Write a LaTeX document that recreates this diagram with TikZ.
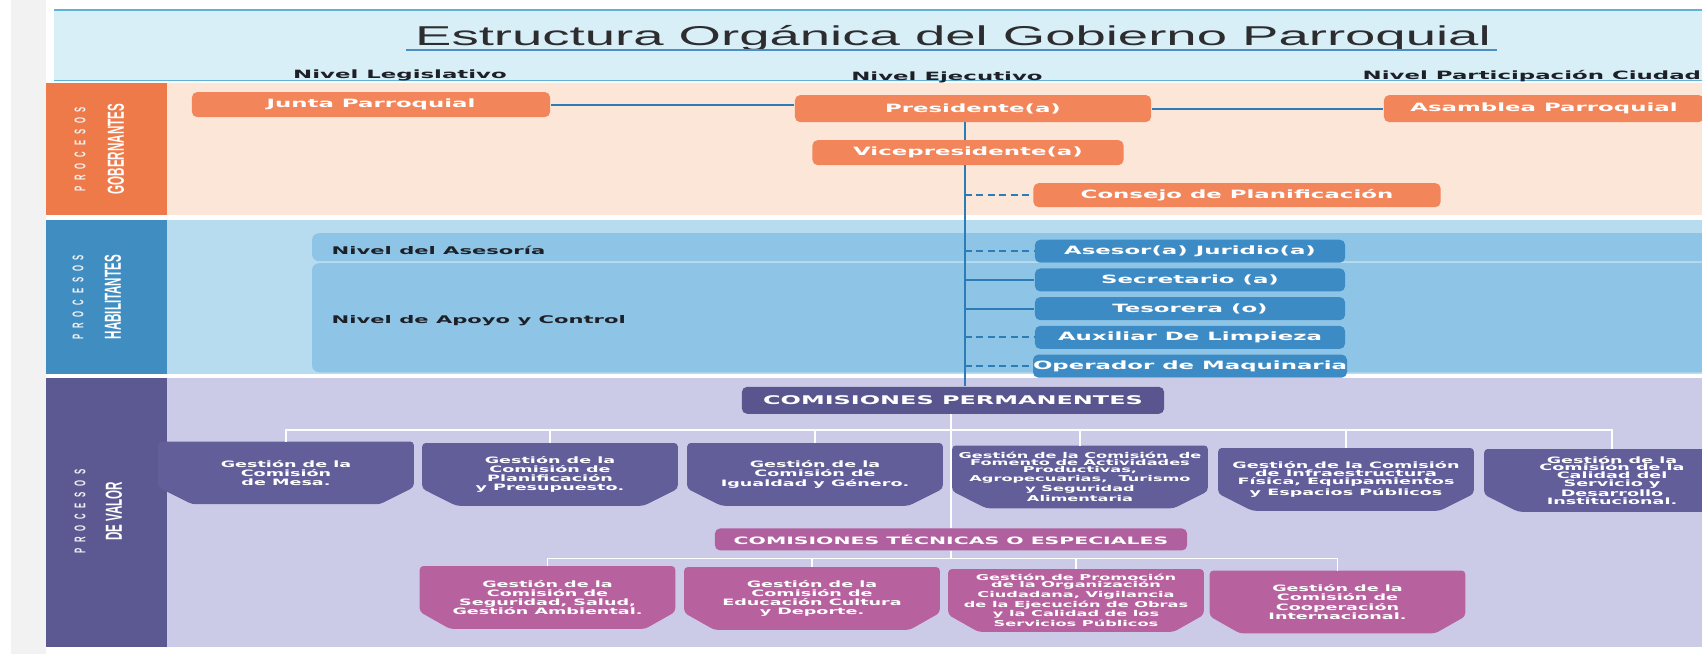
\documentclass[tikz,border=0pt]{standalone}
\usepackage{xcolor}
\usepackage{fontspec}
\usepackage{tikz}
\setmainfont{Liberation Sans}
\newfontfamily\heavy{DejaVu Sans}
\definecolor{govcol}{RGB}{238,122,74}
\definecolor{govbody}{RGB}{252,230,215}
\definecolor{govbox}{RGB}{242,133,90}
\definecolor{habcol}{RGB}{63,141,193}
\definecolor{habbody}{RGB}{183,220,240}
\definecolor{habpanel}{RGB}{142,197,230}
\definecolor{habbox}{RGB}{61,139,197}
\definecolor{valcol}{RGB}{92,88,145}
\definecolor{valbody}{RGB}{204,203,231}
\definecolor{valbox}{RGB}{97,94,154}
\definecolor{permbox}{RGB}{88,85,143}
\definecolor{tecbox}{RGB}{176,96,158}
\definecolor{pinkbox}{RGB}{183,98,159}
\definecolor{bandfill}{RGB}{216,239,247}
\definecolor{bandline}{RGB}{96,178,214}
\definecolor{linkblue}{RGB}{44,124,184}
\definecolor{titlegray}{RGB}{45,45,48}
\definecolor{levelgray}{RGB}{30,32,40}
\usetikzlibrary{positioning,calc,backgrounds}

\begin{document}
\begin{tikzpicture}[
    x=0.01cm, y=-0.02cm, xscale=2,
    every node/.style={transform shape},
    gov/.style={rectangle, rounded corners=3pt, fill=govbox, text=white, inner sep=0pt, font=\heavy\bfseries\fontsize{6.5}{7}\selectfont},
    hab/.style={gov, fill=habbox, minimum width=3.1cm, minimum height=0.46cm},
    head/.style={gov, fill=permbox, font=\heavy\bfseries\fontsize{6.8}{7}\selectfont},
    comm/.style={text=white, align=center, inner sep=0pt, minimum width=2.54cm, minimum height=1.24cm, font=\heavy\bfseries\fontsize{5}{5.2}\selectfont},
    level/.style={text=levelgray, inner sep=0pt, font=\heavy\bfseries\fontsize{6.5}{7}\selectfont},
    proc/.style={rotate=90, text=white!88!gray, inner sep=0pt, font=\bfseries\fontsize{4.4}{5}\selectfont\addfontfeature{LetterSpace=75}},
    procname/.style={rotate=90, text=white, inner sep=0pt, font=\bfseries\fontsize{6.6}{7}\selectfont},
    link/.style={draw=linkblue, line width=1.1pt},
    dlink/.style={link, dash pattern=on 4pt off 2.5pt},
    wlink/.style={draw=white, line width=1pt}
]
    \useasboundingbox (0,0) rectangle (1702,653);

    % Bands
    \begin{scope}[on background layer]
        \fill[white] (0,0) rectangle (1702,653);
        \fill[gray!10] (11,0) rectangle (46,653);
        \fill[bandfill] (54,10) rectangle (1702,80);
        \draw[bandline, line width=0.6pt] (54,10) -- (1702,10) (54,80) -- (1702,80);
        \fill[govcol] (46,83) rectangle (167,215);
        \fill[govbody] (167,83) rectangle (1702,215);
        \fill[habcol] (46,220) rectangle (167,374);
        \fill[habbody] (167,220) rectangle (1702,374);
        \fill[habpanel, rounded corners=4pt] (312,233) rectangle (1720,261);
        \fill[habpanel, rounded corners=4pt] (312,263) rectangle (1720,372);
        \fill[valcol] (46,378) rectangle (167,646);
        \fill[valbody] (167,378) rectangle (1702,646);
    \end{scope}

    % Title
    \node[font=\fontsize{15.5}{18}\selectfont, text=titlegray, anchor=base, inner sep=0pt] (title) at (953,45) {Estructura Orgánica del Gobierno Parroquial};
    \draw[draw=linkblue!85, line width=1pt] ($(title.base west)+(-9,5)$) -- ($(title.base east)+(5,5)$);

    % Levels
    \node[level] (legis) at (400,75) {Nivel Legislativo};
    \node[level] (ejec) at (947,77) {Nivel Ejecutivo};
    \node[level, anchor=west] (ciud) at (1362,76) {Nivel Participación Ciudadana};

    % Process labels
    \node[proc] (procgov) at (80,149) {PROCESOS};
    \node[procname] (namegov) at (116,149) {GOBERNANTES};
    \node[proc] (prochab) at (78,297) {PROCESOS};
    \node[procname] (namehab) at (113,297) {HABILITANTES};
    \node[proc] (procval) at (80,511) {PROCESOS};
    \node[procname] (nameval) at (114,511) {DE VALOR};

    % Procesos gobernantes
    \node[gov, minimum width=3.58cm, minimum height=0.5cm] (junta) at (371,104.5) {Junta Parroquial};
    \node[gov, minimum width=3.56cm, minimum height=0.54cm] (pres) at (973,108.5) {Presidente(a)};
    \node[gov, minimum width=3.2cm, minimum height=0.54cm] (asamblea) at (1544,108.5) {Asamblea Parroquial};
    \node[gov, minimum width=3.11cm, minimum height=0.5cm] (vice) at (968,152.5) {Vicepresidente(a)};
    \node[gov, minimum width=4.07cm, minimum height=0.48cm] (consejo) at (1237,195) {Consejo de Planificación};

    % Procesos habilitantes
    \node[level, anchor=west, font=\heavy\bfseries\fontsize{6}{7}\selectfont] (asesoria) at (331,250) {Nivel del Asesoría};
    \node[level, anchor=west, font=\heavy\bfseries\fontsize{6}{7}\selectfont] (apoyo) at (331,320) {Nivel de Apoyo y Control};
    \node[hab] (asesor) at (1190,251) {Asesor(a) Juridio(a)};
    \node[hab, below=0.1cm of asesor] (secre) {Secretario (a)};
    \node[hab, below=0.1cm of secre] (teso) {Tesorera (o)};
    \node[hab, below=0.1cm of teso] (aux) {Auxiliar De Limpieza};
    \node[hab, below=0.1cm of aux] (oper) {Operador de Maquinaria};

    % Procesos de valor
    \node[head, minimum width=4.22cm, minimum height=0.54cm] (perm) at (953,400) {COMISIONES PERMANENTES};
    \node[head, fill=tecbox, minimum width=4.72cm, minimum height=0.44cm, font=\heavy\bfseries\fontsize{5.8}{7}\selectfont] (tec) at (951,539) {COMISIONES TÉCNICAS O ESPECIALES};

    \node[comm] (g1) at (286,472.5) {Gestión de la\\Comisión\\de Mesa.};
    \node[comm] (g2) at (550,474) {Gestión de la\\Comisión de\\Planificación\\y Presupuesto.};
    \node[comm] (g3) at (815,474) {Gestión de la\\Comisión de\\Igualdad y Género.};
    \node[comm, font=\heavy\bfseries\fontsize{4.6}{4.0}\selectfont] (g4) at (1080,476.5) {Gestión de la Comisión\ \ de\\Fomento de Actividades\\Productivas,\\Agropecuarias,\ \ Turismo\\y Seguridad\\Alimentaria};
    \node[comm, font=\heavy\bfseries\fontsize{5}{4.7}\selectfont] (g5) at (1346,479) {Gestión de la Comisión\\de Infraestructura\\Física, Equipamientos\\y Espacios Públicos};
    \node[comm, font=\heavy\bfseries\fontsize{5}{4.4}\selectfont] (g6) at (1612,480) {Gestión de la\\Comisión de la\\Calidad del\\Servicio y\\Desarrollo\\Institucional.};

    \node[comm] (s1) at (547.5,597) {Gestión de la\\Comisión de\\Seguridad, Salud,\\Gestión Ambiental.};
    \node[comm] (s2) at (812,598) {Gestión de la\\Comisión de\\Educación Cultura\\y Deporte.};
    \node[comm, font=\heavy\bfseries\fontsize{4.6}{3.9}\selectfont] (s3) at (1076,600) {Gestión de Promoción\\de la Organización\\Ciudadana, Vigilancia\\de la Ejecución de Obras\\y la Calidad de los\\Servicios Públicos};
    \node[comm] (s4) at (1337.5,601.5) {Gestión de la\\Comisión de\\Cooperación\\Internacional.};

    % Commission shapes
    \begin{scope}[on background layer]
        \foreach \n in {g1,g2,g3,g4,g5,g6}
            \fill[valbox, rounded corners=2pt] (\n.north west) -- (\n.north east) -- ($(\n.south east)+(0,-17)$) -- ($(\n.south east)+(-34,0)$) -- ($(\n.south west)+(34,0)$) -- ($(\n.south west)+(0,-17)$) -- cycle;
        \foreach \n in {s1,s2,s3,s4}
            \fill[pinkbox, rounded corners=2pt] (\n.north west) -- (\n.north east) -- ($(\n.south east)+(0,-17)$) -- ($(\n.south east)+(-30,0)$) -- ($(\n.south west)+(30,0)$) -- ($(\n.south west)+(0,-17)$) -- cycle;
    \end{scope}

    % Links
    \coordinate (trunk) at (965,0);
    \draw[link] (junta.east) -- (junta.east -| pres.west);
    \draw[link] (pres.east) -- (pres.east -| asamblea.west);
    \draw[link, line width=1.3pt] (pres.south -| trunk) -- (vice.north -| trunk);
    \draw[link, line width=1.3pt] (vice.south -| trunk) -- (perm.north -| trunk);
    \draw[dlink] (trunk |- consejo.west) -- (consejo.west);
    \draw[dlink] (trunk |- asesor.west) -- (asesor.west);
    \draw[link] (trunk |- secre.west) -- (secre.west);
    \draw[link] (trunk |- teso.west) -- (teso.west);
    \draw[dlink] (trunk |- aux.west) -- (aux.west);
    \draw[dlink] (trunk |- oper.west) -- (oper.west);

    \coordinate (bus1) at (0,430);
    \draw[wlink] (g1.north) -- (g1.north |- bus1) -- (g6.north |- bus1) -- (g6.north);
    \foreach \n in {g2,g3,g4,g5}
        \draw[wlink] (\n.north |- bus1) -- (\n.north);
    \draw[wlink] (perm.south -| tec.north) -- (tec.north);

    \coordinate (bus2) at (0,558);
    \draw[wlink] (s1.north) -- (s1.north |- bus2) -- (s4.north |- bus2) -- (s4.north);
    \foreach \n in {s2,s3}
        \draw[wlink] (\n.north |- bus2) -- (\n.north);
    \draw[wlink] (tec.south) -- (tec.south |- bus2);
\end{tikzpicture}
\end{document}
